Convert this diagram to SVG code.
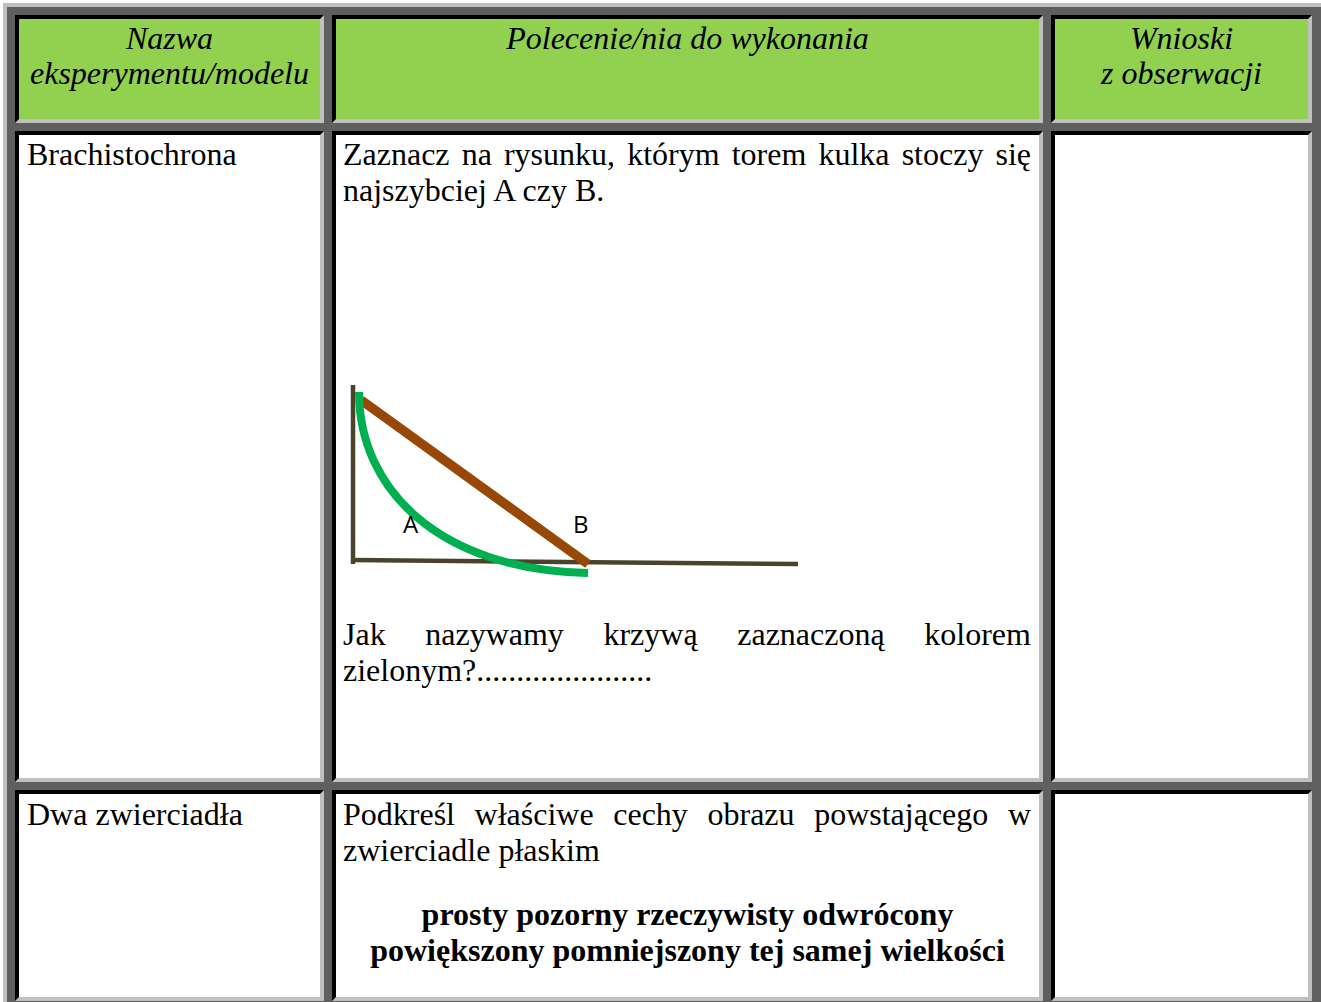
<svg xmlns="http://www.w3.org/2000/svg" width="1321" height="1002" viewBox="0 0 1321 1002">
<style>
.dk{fill:#5f5f5f}
.lt{fill:#c0c0c0}
.bk{fill:#000000}
.hd{fill:#92d050}
.wh{fill:#ffffff}
.t{font-family:"Liberation Serif","Times New Roman",serif;font-size:32px;fill:#000}
.hi{font-style:italic;text-anchor:middle}
.b{font-weight:bold;text-anchor:middle}
.lab{font-family:"Open Sans","Liberation Sans",sans-serif;font-size:24px;fill:#000}
</style>
<rect width="1321" height="1002" fill="#ffffff"/>
<!-- table outer border and spacing -->
<g id="table-frame">
<rect x="3" y="3" width="1318" height="1002" class="lt"/>
<rect x="7" y="7" width="1314" height="1000" class="dk"/>
</g>
<!-- header row -->
<g id="h1">
<rect x="15" y="15" width="309" height="108" class="lt"/>
<polygon class="bk" points="15,15 324,15 320,19 19,19 19,119 15,123"/>
<rect x="19" y="19" width="301" height="100" class="hd"/>
<text class="t hi" x="169.5" y="49">Nazwa</text>
<text class="t hi" x="169.5" y="84">eksperymentu/modelu</text>
</g>
<g id="h2">
<rect x="332" y="15" width="711" height="108" class="lt"/>
<polygon class="bk" points="332,15 1043,15 1039,19 336,19 336,119 332,123"/>
<rect x="336" y="19" width="703" height="100" class="hd"/>
<text class="t hi" x="687.5" y="49">Polecenie/nia do wykonania</text>
</g>
<g id="h3">
<rect x="1051" y="15" width="261" height="108" class="lt"/>
<polygon class="bk" points="1051,15 1312,15 1308,19 1055,19 1055,119 1051,123"/>
<rect x="1055" y="19" width="253" height="100" class="hd"/>
<text class="t hi" x="1181.5" y="49">Wnioski</text>
<text class="t hi" x="1181.5" y="84">z obserwacji</text>
</g>
<!-- row 2 -->
<g id="r2c1">
<rect x="15" y="131" width="309" height="651" class="lt"/>
<polygon class="bk" points="15,131 324,131 320,135 19,135 19,778 15,782"/>
<rect x="19" y="135" width="301" height="643" class="wh"/>
<text class="t" x="27" y="165">Brachistochrona</text>
</g>
<g id="r2c2">
<rect x="332" y="131" width="711" height="651" class="lt"/>
<polygon class="bk" points="332,131 1043,131 1039,135 336,135 336,778 332,782"/>
<rect x="336" y="135" width="703" height="643" class="wh"/>
<text class="t" x="343" y="165" word-spacing="4.1">Zaznacz na rysunku, którym torem kulka stoczy się</text>
<text class="t" x="343" y="201">najszybciej A czy B.</text>
<text class="t" x="343" y="645" word-spacing="31.6">Jak nazywamy krzywą zaznaczoną kolorem</text>
<text class="t" x="343" y="681">zielonym?......................</text>
</g>
<g id="r2c3">
<rect x="1051" y="131" width="261" height="651" class="lt"/>
<polygon class="bk" points="1051,131 1312,131 1308,135 1055,135 1055,778 1051,782"/>
<rect x="1055" y="135" width="253" height="643" class="wh"/>
</g>
<!-- row 3 -->
<g id="r3c1">
<rect x="15" y="790" width="309" height="211" class="lt"/>
<polygon class="bk" points="15,790 324,790 320,794 19,794 19,997 15,1001"/>
<rect x="19" y="794" width="301" height="203" class="wh"/>
<text class="t" x="27" y="825">Dwa zwierciadła</text>
</g>
<g id="r3c2">
<rect x="332" y="790" width="711" height="211" class="lt"/>
<polygon class="bk" points="332,790 1043,790 1039,794 336,794 336,997 332,1001"/>
<rect x="336" y="794" width="703" height="203" class="wh"/>
<text class="t" x="343" y="825" word-spacing="11.6">Podkreśl właściwe cechy obrazu powstającego w</text>
<text class="t" x="343" y="861">zwierciadle płaskim</text>
<text class="t b" x="687.5" y="925">prosty pozorny rzeczywisty odwrócony</text>
<text class="t b" x="687.5" y="961">powiększony pomniejszony tej samej wielkości</text>
</g>
<g id="r3c3">
<rect x="1051" y="790" width="261" height="211" class="lt"/>
<polygon class="bk" points="1051,790 1312,790 1308,794 1055,794 1055,997 1051,1001"/>
<rect x="1055" y="794" width="253" height="203" class="wh"/>
</g>
<!-- brachistochrone drawing -->
<g id="drawing">
<g id="axes" fill="none" stroke="#4a4229" stroke-width="4.5">
<line x1="353" y1="385" x2="353" y2="564"/>
<line x1="351" y1="560" x2="798" y2="564"/>
</g>
<g id="path-B"><line x1="361" y1="400" x2="588" y2="564" stroke="#974806" stroke-width="9.5"/></g>
<g id="path-A"><path d="M359 392 C359 490 440 570 588 573" fill="none" stroke="#00b050" stroke-width="8"/></g>
<text class="lab" x="403" y="533">A</text>
<text class="lab" x="573" y="533">B</text>
</g>
</svg>
